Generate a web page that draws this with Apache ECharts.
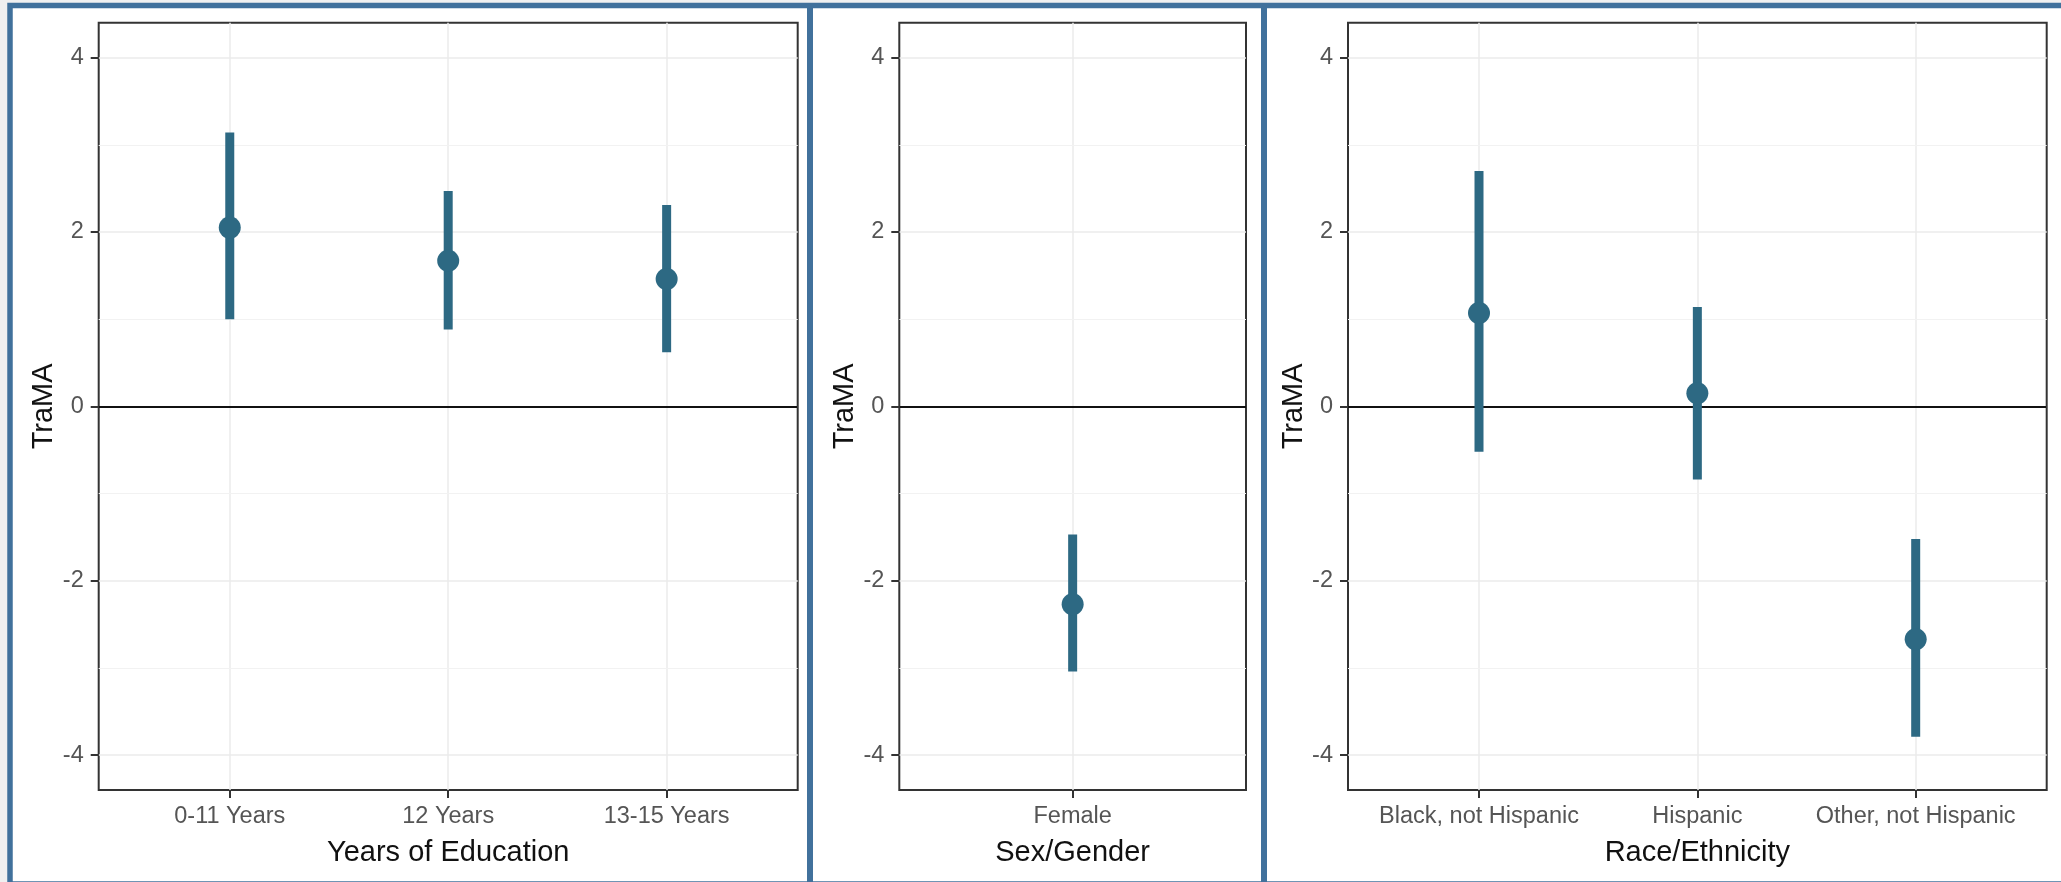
<!DOCTYPE html>
<html>
<head>
<meta charset="utf-8">
<script src="https://cdn.jsdelivr.net/npm/echarts@6/dist/echarts.min.js"></script>
<style>
  html, body { margin: 0; padding: 0; background: #f0f0f0; }
  #chart { width: 2061px; height: 882px; }
</style>
</head>
<body>
<div id="chart"></div>
<script>
// ---- data ----
const yTicks = [-4, -2, 0, 2, 4];
const yMinor = [-3, -1, 1, 3];
const yTitle = 'TraMA';

const eduCats = ['0-11 Years', '12 Years', '13-15 Years'];
const eduEst  = [2.05, 1.67, 1.46];
const eduLo   = [1.00, 0.88, 0.62];
const eduHi   = [3.14, 2.47, 2.31];
const eduTitle = 'Years of Education';

const sexCats = ['Female'];
const sexEst  = [-2.27];
const sexLo   = [-3.04];
const sexHi   = [-1.47];
const sexTitle = 'Sex/Gender';

const raceCats = ['Black, not Hispanic', 'Hispanic', 'Other, not Hispanic'];
const raceEst  = [1.07, 0.15, -2.67];
const raceLo   = [-0.52, -0.84, -3.79];
const raceHi   = [2.70, 1.14, -1.52];
const raceTitle = 'Race/Ethnicity';

// ---- styling / layout ----
const COLOR = '#2d6983';
const FONT = 'Liberation Sans, Arial, sans-serif';
const FRAME = '#41719C';
const yMin = -4.4, yMax = 4.4;

const panels = [
  { cats: eduCats,  est: eduEst,  lo: eduLo,  hi: eduHi,  title: eduTitle,  left: 98.7,  right: 797.7 },
  { cats: sexCats,  est: sexEst,  lo: sexLo,  hi: sexHi,  title: sexTitle,  left: 899.3, right: 1246 },
  { cats: raceCats, est: raceEst, lo: raceLo, hi: raceHi, title: raceTitle, left: 1348,  right: 2046.7 }
];
const gridTop = 22.7, gridBottom = 790;

const grids = [], xAxes = [], yAxes = [], series = [];
panels.forEach((p, k) => {
  const n = p.cats.length;
  const pos = p.cats.map((c, i) => i + 1);
  grids.push({
    left: p.left, top: gridTop, width: p.right - p.left, height: gridBottom - gridTop,
    show: true, borderColor: '#333333', borderWidth: 2, backgroundColor: 'transparent',
    containLabel: false, outerBoundsMode: 'none'
  });
  xAxes.push({
    gridIndex: k, type: 'value', min: 0.4, max: n + 0.6,
    name: p.title, nameLocation: 'middle', nameGap: 48,
    nameTextStyle: { fontFamily: FONT, fontSize: 29, color: '#111' },
    axisLine: { show: false, onZero: false },
    axisTick: { show: true, customValues: pos, length: 8, lineStyle: { color: '#333', width: 2 } },
    axisLabel: { customValues: pos, formatter: v => p.cats[Math.round(v) - 1] || '',
                 fontFamily: FONT, fontSize: 23.5, color: '#555555', margin: 15 },
    splitLine: { show: true, lineStyle: { color: '#ebebeb', width: 1.5 } }
  });
  yAxes.push({
    gridIndex: k, type: 'value', min: yMin, max: yMax,
    name: yTitle, nameLocation: 'middle', nameGap: 39,
    nameTextStyle: { fontFamily: FONT, fontSize: 29, color: '#111' },
    axisLine: { show: false },
    axisTick: { show: true, customValues: yTicks, length: 8, lineStyle: { color: '#333', width: 2 } },
    axisLabel: { customValues: yTicks, fontFamily: FONT, fontSize: 23.5, color: '#555555', margin: 15 },
    splitLine: { show: true, lineStyle: { color: '#ebebeb', width: 1.5 } }
  });
  // minor grid + zero line (drawn beneath the estimates)
  series.push({
    type: 'line', xAxisIndex: k, yAxisIndex: k, data: [], z: 1, silent: true,
    markLine: {
      z: 1, silent: true, symbol: 'none', animation: false, label: { show: false },
      data: yMinor.map(v => ({ yAxis: v, lineStyle: { color: '#f2f2f2', width: 1, type: 'solid' } }))
        .concat([{ yAxis: 0, lineStyle: { color: '#111', width: 2, type: 'solid' } }])
    }
  });
  series.push({
    type: 'custom', xAxisIndex: k, yAxisIndex: k, z: 3, silent: true,
    data: p.cats.map((c, i) => [i + 1, p.lo[i], p.hi[i]]),
    encode: { x: 0, y: [1, 2] },
    renderItem: (params, api) => {
      const x = api.value(0);
      const a = api.coord([x, api.value(1)]);
      const b = api.coord([x, api.value(2)]);
      return { type: 'line', shape: { x1: a[0], y1: a[1], x2: b[0], y2: b[1] },
               style: { stroke: COLOR, lineWidth: 9, lineCap: 'butt' } };
    }
  });
  series.push({
    type: 'scatter', xAxisIndex: k, yAxisIndex: k, z: 4, silent: true,
    symbol: 'circle', symbolSize: 22,
    itemStyle: { color: COLOR, opacity: 1 },
    data: p.cats.map((c, i) => [i + 1, p.est[i]])
  });
});

const chart = echarts.init(document.getElementById('chart'), null, { renderer: 'canvas' });
chart.setOption({
  animation: false,
  backgroundColor: '#f0f0f0',
  graphic: {
    elements: [
      { type: 'rect', z: -10, silent: true, shape: { x: 10, y: 5.5, width: 2100, height: 878.5 },
        style: { fill: '#ffffff', stroke: FRAME, lineWidth: 5.5 } },
      { type: 'rect', z: -9, silent: true, shape: { x: 807, y: 3, width: 6, height: 882 },
        style: { fill: FRAME } },
      { type: 'rect', z: -9, silent: true, shape: { x: 1261, y: 3, width: 6, height: 882 },
        style: { fill: FRAME } }
    ]
  },
  grid: grids, xAxis: xAxes, yAxis: yAxes, series: series
});
</script>
</body>
</html>
